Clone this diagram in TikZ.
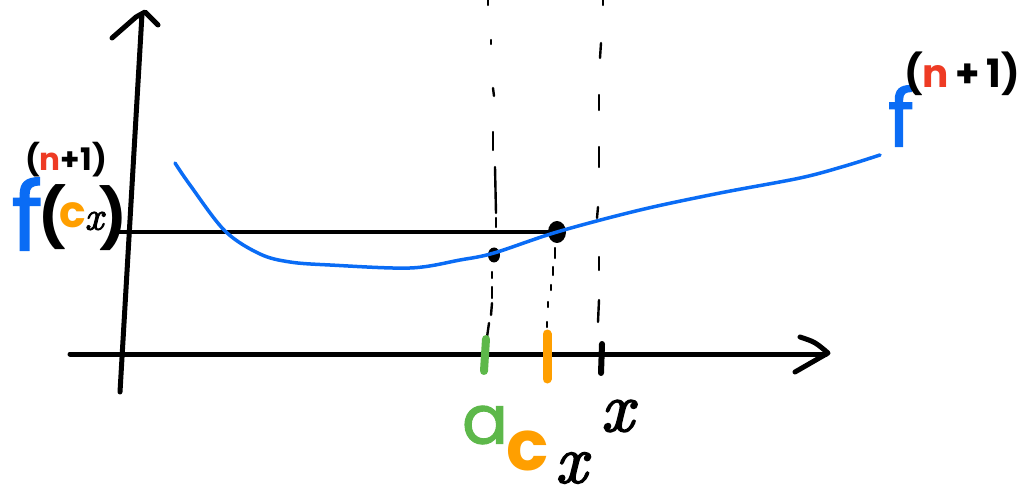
\documentclass[tikz,border=0pt]{standalone}
\usepackage{fontspec}
\setmainfont{Poppins}
\newfontfamily\xfont{lmroman10-italic.otf}[FakeBold=2.5]
\newfontfamily\pmed{Poppins}[FakeBold=1.5]
\usetikzlibrary{shapes.geometric}
\definecolor{pblue}{HTML}{0A6CF5}
\definecolor{pgreen}{HTML}{5DB84A}
\definecolor{porange}{HTML}{FF9F00}
\definecolor{pred}{HTML}{EE3B24}
\tikzset{
  glyph/.style={inner sep=0pt, outer sep=0pt, anchor=center},
  axisline/.style={line width=5pt, line cap=round, line join=round},
  guide/.style={line width=2.4pt, line cap=round},
  tickmark/.style={line cap=round},
  dot/.style={ellipse, fill=black, inner sep=0pt},
}
\begin{document}
\begin{tikzpicture}[x=1pt,y=-1pt]
\useasboundingbox (0,0) rectangle (1020,494);
% axes
\coordinate (yb) at (120,392);
\coordinate (yt) at (142,14);
\draw[axisline] (yb) -- (yt);
\draw[axisline] (112,38) -- (136,17) -- (145,12) -- (158,25);
\coordinate (xl) at (70,354);
\coordinate (xr) at (826,354);
\draw[axisline] (xl) -- (xr);
\draw[axisline] (800,337) .. controls (815,342) .. (828,353) .. controls (812,362) .. (795,372);
% dots
\node[dot, minimum width=12pt, minimum height=15pt] (a) at (494,255) {};
\node[dot, minimum width=18pt, minimum height=22pt] (cx) at (557,232) {};
% horizontal level line
\coordinate (hl) at (118,232);
\draw[line width=4pt] (hl) -- (cx.center);
% blue curve
\draw[pblue, line width=3.5pt, line cap=round] plot[smooth, tension=0.55] coordinates {
 (175,163) (190,185) (225,231) (260,254) (290,262) (330,265) (410,268) (460,260) (494,253) (557,232) (640,210) (720,193) (800,178) (845,166) (880,155)};
% guides
\foreach \x/\ya/\xb/\yb in {488/0/488/5, 491/40/491/44, 493/88/494/96, 493/132/493/150, 495/167/496/213, 496/218/496/227,
  492/272/492/278, 492/287/492/298, 492/303/491/315, 489/323/487/337}
  \draw[guide] (\x,\ya) -- (\xb,\yb);
\foreach \x/\ya/\xb/\yb in {555/248/555/258, 553/267/553/275, 551/285/551/290, 548/302/548/307, 547/322/547/327}
  \draw[guide] (\x,\ya) -- (\xb,\yb);
\foreach \x/\ya/\xb/\yb in {603/0/603/5, 601/43/600/58, 599/95/599/110, 599/147/599/167, 598/207/597/218, 599/257/599/270, 599/300/598/322}
  \draw[guide] (\x,\ya) -- (\xb,\yb);
% ticks
\draw[tickmark, pgreen, line width=8pt] (486,339) -- (484,371);
\draw[tickmark, porange, line width=9pt] (547,334) -- (547,379);
\draw[tickmark, black, line width=6pt] (602,344) -- (601,373);
% left label f^(n+1)(c_x)
\node[glyph, text=pblue, font=\fontsize{95}{95}\pmed] (fL) at (27,214) {f};
\node[glyph, font=\fontsize{58}{58}\selectfont\bfseries] (lpL) at (52,217) {(};
\node[glyph, text=porange, font=\fontsize{44}{44}\selectfont\bfseries] (cL) at (73,215) {c};
\node[glyph, font=\fontsize{40}{40}\xfont] (xL) at (94,221) {x};
\node[glyph, font=\fontsize{58}{58}\selectfont\bfseries] (rpL) at (113,218) {)};
\node[glyph, font=\fontsize{31}{31}\selectfont\bfseries] (supL) at (66,160) {(\textcolor{pred}{n}+1)};
% right label f^(n+1)
\node[glyph, text=pblue, font=\fontsize{80}{80}\pmed] (fR) at (901,116) {f};
\node[glyph, font=\fontsize{39}{39}\selectfont\bfseries] (supR) at (962,74) {(\textcolor{pred}{n}\,+\,1)};
% bottom labels
\node[glyph, text=pgreen, font=\fontsize{68}{68}\pmed] (la) at (485,425) {a};
\node[glyph, text=porange, font=\fontsize{70}{70}\selectfont\bfseries] (lc) at (528,451) {c};
\node[glyph, font=\fontsize{68}{68}\xfont] (lcx) at (571,468) {x};
\node[glyph, font=\fontsize{70}{70}\xfont] (lx) at (617,416) {x};
\end{tikzpicture}
\end{document}
